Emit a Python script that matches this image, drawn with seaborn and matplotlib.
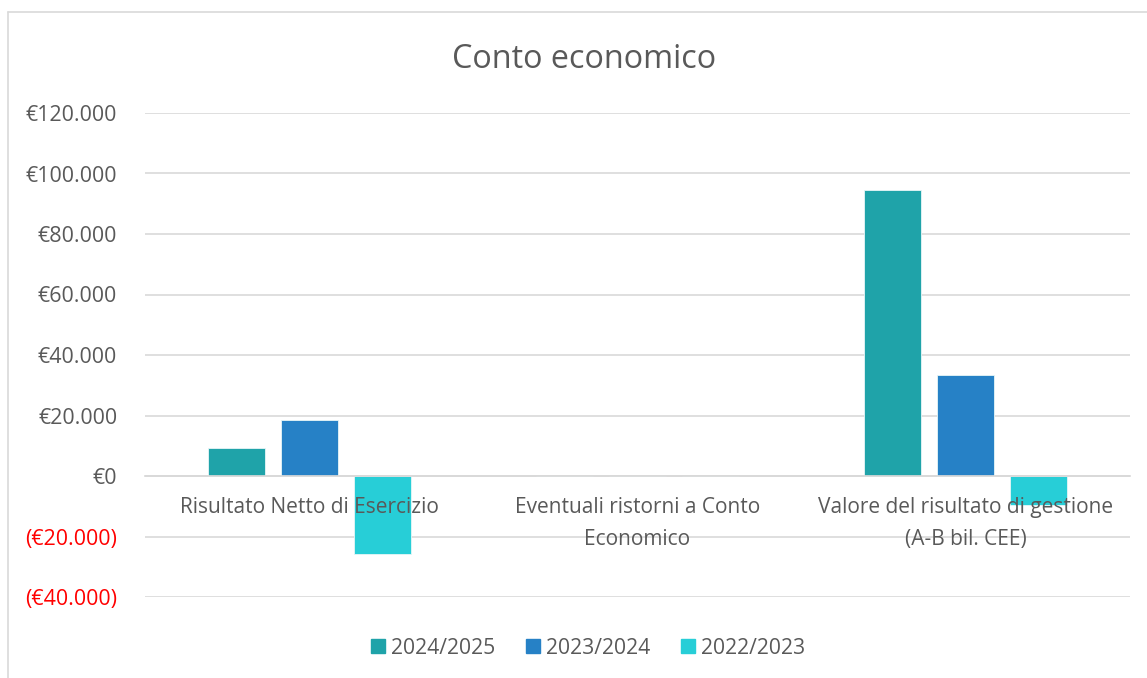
import matplotlib
matplotlib.use("Agg")
import matplotlib.pyplot as plt
from matplotlib.lines import Line2D
import seaborn as sns
import pandas as pd

categories = ["Risultato Netto di Esercizio",
              "Eventuali ristorni a Conto\nEconomico",
              "Valore del risultato di gestione\n(A-B bil. CEE)"]
series_names = ["2024/2025", "2023/2024", "2022/2023"]
values_2024_2025 = [9300, 0, 94500]
values_2023_2024 = [18400, 0, 33300]
values_2022_2023 = [-25800, 0, -9600]
y_ticks = [-40000, -20000, 0, 20000, 40000, 60000, 80000, 100000, 120000]
colors = ["#1FA3A9", "#2681C6", "#27CED7"]

rows = []
for name, vals in zip(series_names, [values_2024_2025, values_2023_2024, values_2022_2023]):
    for c, v in zip(categories, vals):
        rows.append({"cat": c, "series": name, "value": v})
df = pd.DataFrame(rows)

sns.set_theme(style="white")
plt.rcParams['font.family'] = ['Open Sans', 'DejaVu Sans']
text_col = "#595959"

fig = plt.figure(figsize=(11.47, 6.78), dpi=100)
ax = fig.add_axes([145/1147, 1-597/678, (1130-145)/1147, (597-113)/678])

sns.barplot(data=df, x="cat", y="value", hue="series", hue_order=series_names,
            palette=colors, width=0.668, gap=0.22, ax=ax, legend=False,
            errorbar=None, saturation=1, linewidth=0.6, edgecolor="#E8F6F7")

for s in ["left", "right", "top"]:
    ax.spines[s].set_visible(False)
ax.spines["bottom"].set_position(("data", 0))
ax.spines["bottom"].set_color("#D9D9D9")

ax.set_ylim(y_ticks[0], y_ticks[-1])
ax.set_xlim(-0.5, len(categories) - 0.5)
ax.set_yticks(y_ticks)

def fmt(v):
    s = f"{abs(int(v)):,}".replace(",", ".")
    return f"(€{s})" if v < 0 else f"€{s}"
ax.set_yticklabels([fmt(v) for v in y_ticks])

ax.yaxis.grid(True, color="#D9D9D9", linewidth=1.2)
ax.tick_params(axis="y", length=0, pad=20)
ax.tick_params(axis="x", length=0, pad=15, labelsize=15, labelcolor=text_col)

ax.set_xticks(range(len(categories)))
ax.set_xticklabels(categories, linespacing=1.67)
for lbl, v in zip(ax.get_yticklabels(), y_ticks):
    lbl.set_color("#FF0000" if v < 0 else text_col)
    lbl.set_fontsize(15.4)
for lbl in ax.get_xticklabels():
    lbl.set_linespacing(1.67)

ax.yaxis.set_zorder(0.5)
ax.xaxis.set_zorder(3)
ax.set_xlabel("")
ax.set_ylabel("")

fig.suptitle("Conto economico", x=584/1147, y=1-60/678, va="center", fontsize=23.3, color=text_col)

handles = [Line2D([0], [0], marker="s", linestyle="", markersize=10,
                  markerfacecolor=c, markeredgecolor=c) for c in colors]
fig.legend(handles, series_names, loc="center", bbox_to_anchor=(588/1147, 1-648/678),
           ncol=3, frameon=False, fontsize=15.2, labelcolor=text_col,
           handlelength=0.7, handletextpad=0.25, columnspacing=1.45)

fig.add_artist(Line2D([8/1147, 8/1147], [0, 1-12/678], transform=fig.transFigure,
                      color="#D9D9D9", linewidth=1.2))
fig.add_artist(Line2D([8/1147, 1], [1-12/678, 1-12/678], transform=fig.transFigure,
                      color="#D9D9D9", linewidth=1.2))

fig.savefig("out.png", dpi=100)
